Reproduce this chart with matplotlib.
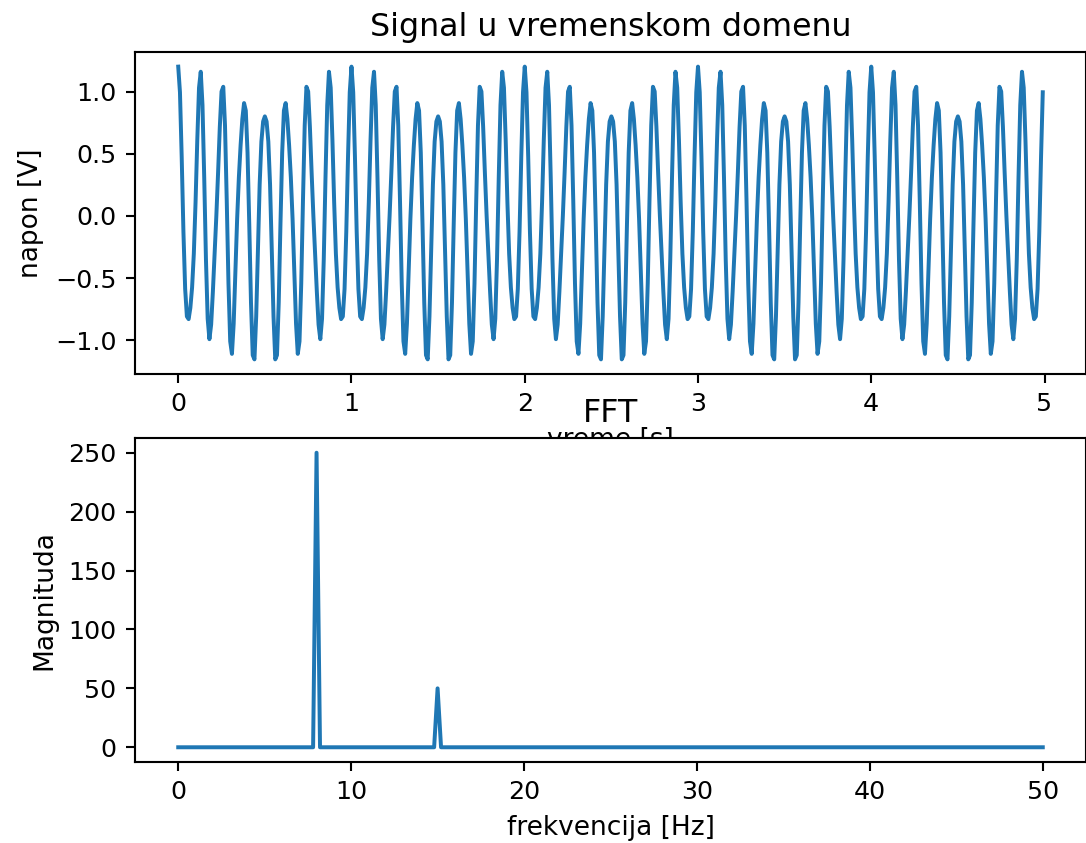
import matplotlib.pyplot as plt
import numpy as np

# Signal parameters
fs = 100            # sampling rate [Hz]
duration = 5        # [s]
freqs = [8, 15]     # component frequencies [Hz]
amps = [1.0, 0.2]   # component amplitudes [V]

t = np.arange(0, duration, 1 / fs)
signal = sum(a * np.cos(2 * np.pi * f * t) for f, a in zip(freqs, amps))

spectrum = np.abs(np.fft.rfft(signal))
freq_axis = np.fft.rfftfreq(len(t), 1 / fs)

k = 1.9  # scale of the original render
plt.rcParams.update({
    'font.size': 10 * k,
    'xtick.labelsize': 9.6 * k,
    'ytick.labelsize': 9.6 * k,
    'axes.labelsize': 10 * k,
    'axes.titlesize': 12 * k,
    'axes.titlepad': 6 * k,
    'axes.labelpad': 4 * k,
    'axes.linewidth': 0.8 * k,
    'lines.linewidth': 1.5 * k,
    'xtick.major.size': 3.5 * k,
    'ytick.major.size': 3.5 * k,
    'xtick.major.width': 0.8 * k,
    'ytick.major.width': 0.8 * k,
    'xtick.major.pad': 3.5 * k,
    'ytick.major.pad': 3.5 * k,
})

fig = plt.figure(figsize=(10.86, 8.43), dpi=100)

left = 135 / 1086
ax1 = fig.add_axes([left, 1 - 374 / 843, 1.0 - left, (374 - 52) / 843])
ax1.plot(t, signal, color='#1f77b4')
ax1.set_title('Signal u vremenskom domenu')
ax1.set_xlabel('vreme [s]')
ax1.set_ylabel('napon [V]')

ax2 = fig.add_axes([left, 1 - 762 / 843, 1.0 - left, (762 - 438) / 843])
ax2.plot(freq_axis, spectrum, color='#1f77b4')
ax2.set_title('FFT')
ax2.set_xlabel('frekvencija [Hz]')
ax2.set_ylabel('Magnituda')

fig.savefig('out.png', dpi=100)
